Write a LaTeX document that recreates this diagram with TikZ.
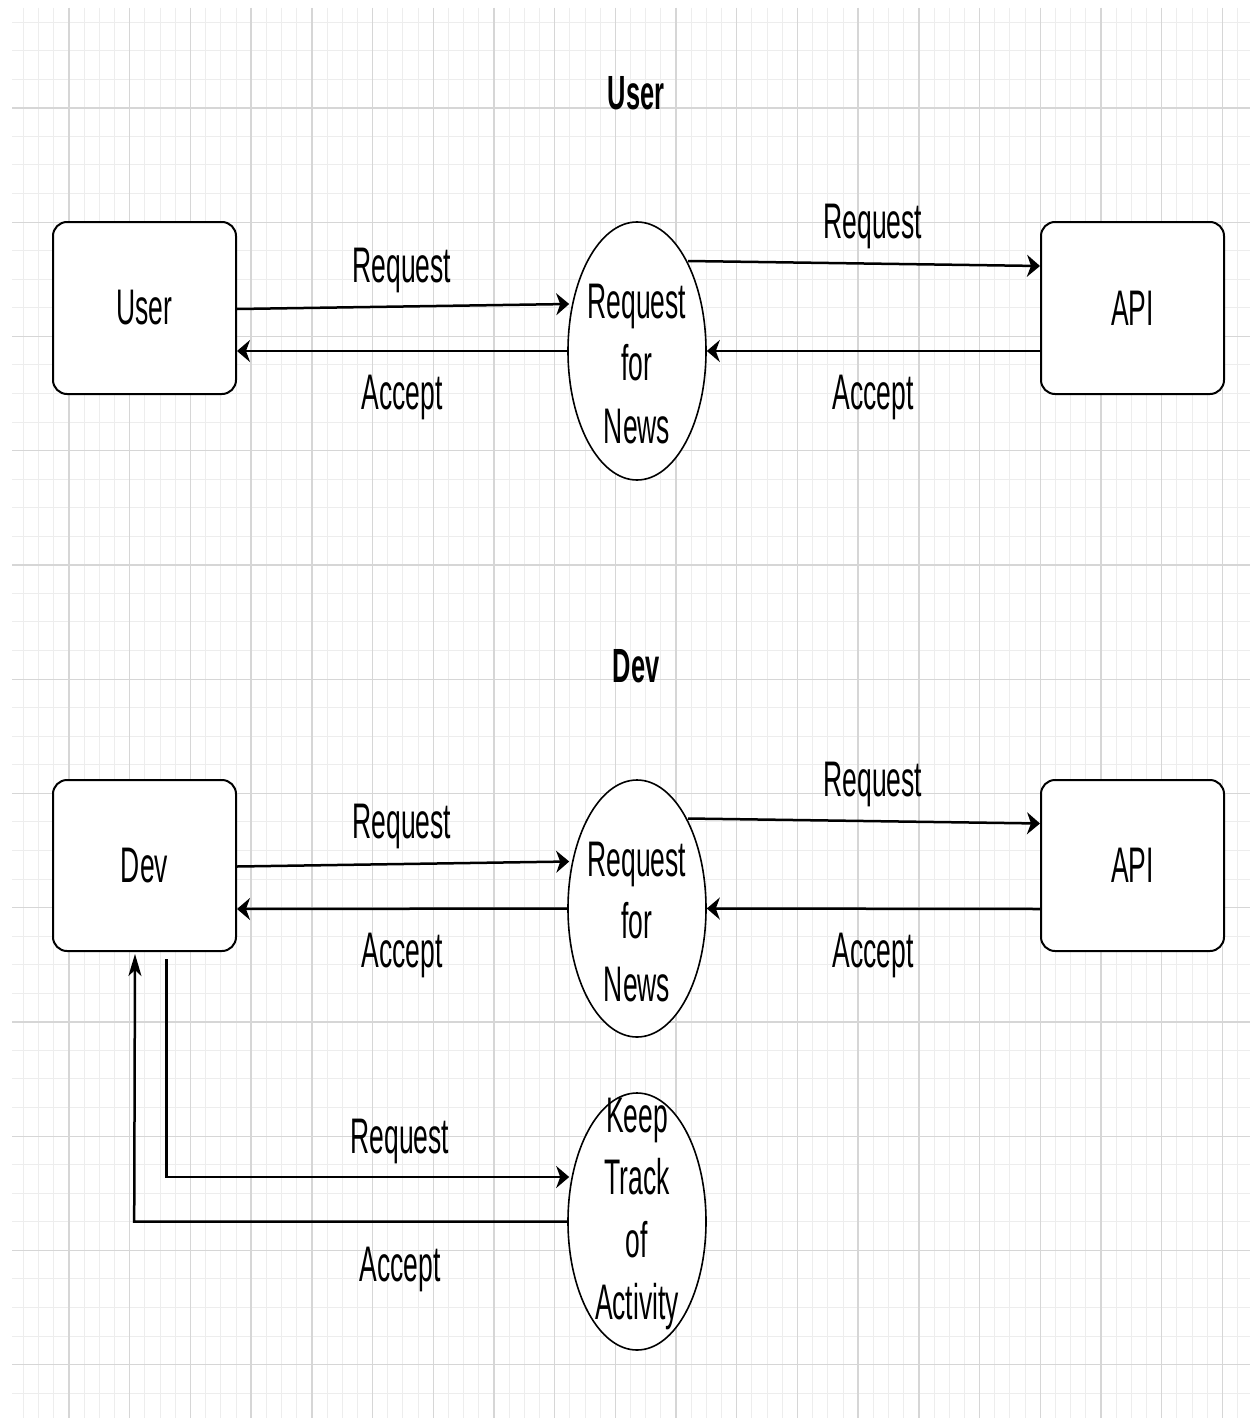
\documentclass[tikz,border=0pt]{standalone}
\usepackage{fontspec}
\setmainfont{Liberation Sans}
\usepackage{graphicx}
\usetikzlibrary{arrows.meta,shapes.geometric,calc}
\newcommand\sqz[1]{\scalebox{0.53}[1]{#1}}
\begin{document}
\begin{tikzpicture}[x=0.5pt,y=-0.5pt,
  gminor/.style={draw=black!7, line width=0.4pt},
  gmajor/.style={draw=black!16, line width=0.7pt},
  box/.style={draw, line width=1pt, rounded corners=7pt, fill=white,
    minimum width=91.5pt, minimum height=86pt, inner sep=0pt,
    font=\fontsize{25}{31.25}\selectfont},
  proc/.style={draw, ellipse, line width=0.8pt, fill=white,
    minimum width=69pt, minimum height=129pt, inner sep=0pt},
  lbl/.style={font=\fontsize{25}{31.25}\selectfont, inner sep=0pt, anchor=base},
  ttl/.style={font=\fontsize{24}{30}\selectfont\bfseries, inner sep=0pt, anchor=base},
  conn/.style={line width=1.25pt, -{Stealth[length=6.5pt,width=11pt,inset=2pt]}},
  vconn/.style={line width=1.25pt, -{Stealth[length=11pt,width=6.5pt,inset=3pt]}}
]
\useasboundingbox (0,0) rectangle (1252,1418);
\fill[white] (0,0) rectangle (1252,1418);
% grid
\begin{scope}
\clip (12,8) rectangle (1250,1418);
\foreach \i in {0,...,82} \draw[gminor] ({8.3+15.175*\i},8) -- ({8.3+15.175*\i},1418);
\foreach \i in {0,...,50} \draw[gminor] (12,{-6.5+28.5625*\i}) -- (1250,{-6.5+28.5625*\i});
\foreach \i in {0,...,20} \draw[gmajor] ({8.3+60.7*\i},8) -- ({8.3+60.7*\i},1418);
\foreach \i in {0,...,12} \draw[gmajor] (12,{-6.25+114.25*\i}) -- (1250,{-6.25+114.25*\i});
\end{scope}

% ---------- User section ----------
\node[ttl] (t1) at (636,110) {\sqz{User}};
\node[box] (u) at (144.5,308) {\sqz{User}};
\node[proc] (rn) at (637,351) {};
\node[lbl] (rnt) at (637,318) {\sqz{\begin{tabular}[t]{@{}c@{}}Request\\for\\News\end{tabular}}};
\node[box] (api) at (1132.5,308) {\sqz{API}};

\draw[conn] ($(u.east)+(0,1)$) -- ($(rn.west)+(2,-47)$);
\draw[conn] (rn.west) -- ($(u.east)+(0,43)$);
\draw[conn] ($(rn.center)+(51,-90)$) -- ($(api.west)+(0,-42)$);
\draw[conn] ($(api.west)+(0,43)$) -- (rn.east);

\node[lbl] (l1) at (402,282) {\sqz{Request}};
\node[lbl] (l2) at (402,409) {\sqz{Accept}};
\node[lbl] (l3) at (873,238) {\sqz{Request}};
\node[lbl] (l4) at (873,409) {\sqz{Accept}};

% ---------- Dev section ----------
\node[ttl] (t2) at (636,682) {\sqz{Dev}};
\node[box, minimum height=85.5pt] (dev) at (144.5,865.5) {\sqz{Dev}};
\node[proc, minimum height=128.5pt] (rn2) at (637,908.5) {};
\node[lbl] (rn2t) at (637,876) {\sqz{\begin{tabular}[t]{@{}c@{}}Request\\for\\News\end{tabular}}};
\node[box, minimum height=85.5pt] (api2) at (1132.5,865.5) {\sqz{API}};

\draw[conn] ($(dev.east)+(0,1)$) -- ($(rn2.west)+(2,-47)$);
\draw[conn] (rn2.west) -- ($(dev.east)+(0,43.5)$);
\draw[conn] ($(rn2.center)+(51,-90)$) -- ($(api2.west)+(0,-42)$);
\draw[conn] ($(api2.west)+(0,43.5)$) -- (rn2.east);

\node[lbl] (l5) at (402,838) {\sqz{Request}};
\node[lbl] (l6) at (402,967) {\sqz{Accept}};
\node[lbl] (l7) at (873,796) {\sqz{Request}};
\node[lbl] (l8) at (873,967) {\sqz{Accept}};

% ---------- Keep track ----------
\node[proc, minimum height=128.5pt] (kt) at (637,1221.5) {};
\node[lbl] (ktt) at (637,1132) {\sqz{\begin{tabular}[t]{@{}c@{}}Keep\\Track\\of\\Activity\end{tabular}}};

\coordinate (rq1) at ($(dev.south)+(22,7)$);
\draw[conn] (rq1) |- ($(kt.west)+(2,-44.5)$);
\coordinate (ac1) at ($(kt.west)+(-433,0)$);
\draw[vconn] (kt.west) -- (ac1) -- ($(dev.south)+(-9.5,2)$);

\node[lbl] (l9) at (400,1153) {\sqz{Request}};
\node[lbl] (l10) at (400,1281) {\sqz{Accept}};
\end{tikzpicture}
\end{document}
